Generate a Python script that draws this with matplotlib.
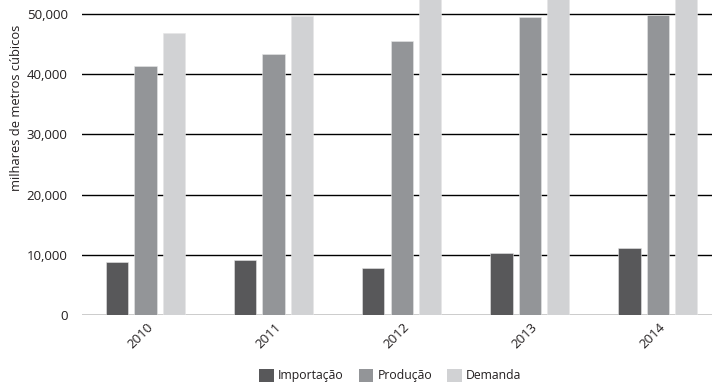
import matplotlib
matplotlib.use("Agg")
import matplotlib.pyplot as plt
from matplotlib.patches import Patch
from matplotlib.ticker import FuncFormatter
from matplotlib.transforms import ScaledTranslation
import numpy as np

plt.rcParams['font.family'] = ['Open Sans', 'DejaVu Sans']

# Data (thousands of cubic metres)
years = ["2010", "2011", "2012", "2013", "2014"]
importacao = [8850, 9190, 7860, 10250, 11180]
producao = [41360, 43360, 45460, 49560, 49780]
demanda = [46790, 49720, 53500, 56000, 57500]
series_names = ["Importação", "Produção", "Demanda"]
colors = ["#58585a", "#939598", "#d1d2d4"]
y_ticks = [0, 10000, 20000, 30000, 40000, 50000]

fig = plt.figure(figsize=(7.12, 3.85), dpi=100)
# axes extend a little past the right and top edges of the figure
ax = fig.add_axes([0.1147, 0.1818, 0.899, 0.86])

x = np.arange(len(years))
width = 0.175
offset = 0.222
for i, (vals, name, c) in enumerate(zip([importacao, producao, demanda], series_names, colors)):
    ax.bar(x + (i - 1) * offset, vals, width, color=c, label=name, zorder=3,
           edgecolor='#e6e6e6', linewidth=0.4)

ax.set_xlim(-0.5, len(years) - 0.5)
ax.set_ylim(0, 55000)
ax.set_yticks(y_ticks)
ax.yaxis.set_major_formatter(FuncFormatter(lambda v, p: f"{int(v):,}"))
ax.grid(axis='y', color='#000000', linewidth=1.0, zorder=1)
ax.set_xticks(x)
ax.set_xticklabels(years, rotation=45, ha='center')
ax.tick_params(axis='both', length=0, labelsize=9.5, colors='#231f20')
ax.tick_params(axis='y', pad=10)
ax.tick_params(axis='x', pad=4)
# nudge the rotated year labels slightly to the left
shift = ScaledTranslation(-4 / 72, 0, fig.dpi_scale_trans)
for lbl in ax.get_xticklabels():
    lbl.set_transform(lbl.get_transform() + shift)
for s in ax.spines.values():
    s.set_visible(False)

fig.text(0.023, 0.72, "milhares de metros cúbicos", rotation=90, ha='center', va='center',
         fontsize=9.3, color='#231f20')

handles = [Patch(facecolor=c, label=n) for c, n in zip(colors, series_names)]
fig.legend(handles=handles, loc='lower center', bbox_to_anchor=(0.548, -0.022), ncol=3,
           frameon=False, fontsize=8.8, handlelength=1.2, handleheight=1.2,
           handletextpad=0.35, columnspacing=1.2, labelcolor='#231f20')

fig.savefig("out.png", dpi=100)
